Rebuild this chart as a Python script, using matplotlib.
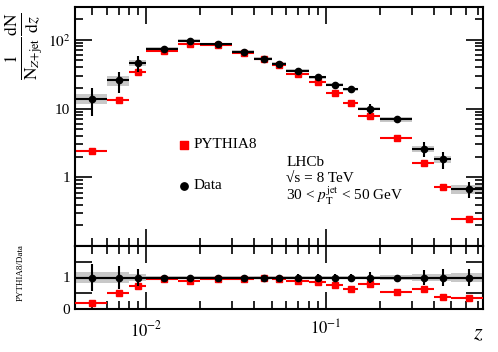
import numpy as np
import matplotlib
matplotlib.use('Agg')
import matplotlib.pyplot as plt
from matplotlib.ticker import FixedLocator, LogLocator, NullFormatter, FixedFormatter

plt.rcParams['font.family'] = 'Liberation Serif'
plt.rcParams['mathtext.fontset'] = 'stix'

# z bin edges
edges = np.array([0.004, 0.006, 0.008, 0.01, 0.015, 0.02, 0.03, 0.04, 0.05, 0.06,
                  0.08, 0.1, 0.125, 0.15, 0.2, 0.3, 0.4, 0.5, 0.75])
data = np.array([13.8, 25.6, 46.1, 73.5, 96.7, 86.7, 67.2, 53.2, 44.6, 35.7,
                 28.3, 22.2, 19.0, 10.0, 6.94, 2.59, 1.84, 0.68])
pythia = np.array([2.44, 13.3, 33.7, 69.4, 85.6, 83.3, 64.9, 52.3, 42.9, 32.3,
                   24.0, 17.0, 11.9, 7.81, 3.77, 1.63, 0.71, 0.244])
# relative stat and syst uncertainties on data
stat_rel = np.array([0.44, 0.35, 0.27, 0.07, 0.07, 0.07, 0.07, 0.07, 0.07, 0.1,
                     0.1, 0.1, 0.1, 0.16, 0.07, 0.25, 0.28, 0.27])
sys_rel = np.array([0.17, 0.16, 0.1, 0.06, 0.05, 0.05, 0.05, 0.05, 0.05, 0.05,
                    0.05, 0.05, 0.06, 0.06, 0.07, 0.1, 0.12, 0.15])

centers = 0.5 * (edges[:-1] + edges[1:])
widths = np.diff(edges)
xerr = [centers - edges[:-1], edges[1:] - centers]
ratio = pythia / data

fig = plt.figure(figsize=(4.98, 3.52), dpi=100)
ax = fig.add_axes([75/498, 106/352, 408/498, 239/352])
rax = fig.add_axes([75/498, 43/352, 408/498, 63/352], sharex=ax)

# main panel
ax.bar(edges[:-1], 2*sys_rel*data, bottom=data*(1-sys_rel), width=widths, align='edge',
       color='#c8c8c8', linewidth=0, zorder=1)
ax.errorbar(centers, pythia, xerr=xerr, fmt='s', color='red', ms=4, lw=1.5,
            capsize=0, zorder=2)
ax.errorbar(centers, data, xerr=xerr, yerr=stat_rel*data, fmt='o', color='black',
            ms=4.5, lw=1.5, capsize=0, zorder=3)
ax.set_xscale('log')
ax.set_yscale('log')
ax.set_xlim(0.004, 0.75)
ax.set_ylim(0.1, 300)
ax.yaxis.set_major_locator(FixedLocator([1, 10, 100]))
ax.yaxis.set_major_formatter(FixedFormatter(['1', '10', r'$10^2$']))
ax.yaxis.set_minor_locator(LogLocator(base=10, subs=np.arange(2, 10)))
ax.yaxis.set_minor_formatter(NullFormatter())
ax.tick_params(labelbottom=False)
fig.text(24/498, 1 - 46/352,
         r'$\frac{1}{\mathrm{N}_{Z\mathrm{+jet}}}\frac{\mathrm{dN}}{\mathrm{d}z}$',
         fontsize=18, rotation=90, ha='center', va='center')

ax.scatter([0.0161], [2.95], marker='s', color='red', s=28)
ax.text(0.0183, 2.95, 'PYTHIA8', fontsize=11, va='center')
ax.scatter([0.0161], [0.757], marker='o', color='black', s=28)
ax.text(0.0183, 0.757, 'Data', fontsize=11, va='center')
ax.text(0.06, 1.66, 'LHCb', fontsize=11, va='center')
ax.text(0.06, 0.955, '\u221as = 8 TeV', fontsize=11, va='center')
ax.text(0.06, 0.54, r'30 < $p_{\mathrm{T}}^{\mathrm{jet}}$ < 50 GeV', fontsize=11, va='center')

# ratio panel
rax.bar(edges[:-1], 2*sys_rel, bottom=1-sys_rel, width=widths, align='edge',
        color='#c8c8c8', linewidth=0, zorder=1)
rax.axhline(1, color='black', lw=1.5, zorder=2)
rax.errorbar(centers, ratio, xerr=xerr, fmt='s', color='red', ms=4, lw=1.5,
             capsize=0, zorder=3)
rax.errorbar(centers, np.ones_like(data), xerr=xerr, yerr=stat_rel, fmt='o',
             color='black', ms=4.5, lw=1.5, capsize=0, zorder=4)
rax.set_ylim(0, 2)
rax.yaxis.set_major_locator(FixedLocator([0, 0.5, 1, 1.5]))
rax.yaxis.set_major_formatter(FixedFormatter(['0', '', '1', '']))
rax.xaxis.set_major_locator(FixedLocator([0.01, 0.1]))
rax.xaxis.set_major_formatter(FixedFormatter([r'$10^{-2}$', r'$10^{-1}$']))
rax.xaxis.set_minor_locator(LogLocator(base=10, subs=np.arange(2, 10)))
rax.xaxis.set_minor_formatter(NullFormatter())
rax.set_ylabel('PYTHIA8/Data', fontsize=6.5, labelpad=4)
rax.yaxis.set_label_coords(-50/408, 0.58)
fig.text(478/498, 1 - 335/352, r'$z$', fontsize=16, ha='center', va='center')

for a in (ax, rax):
    a.tick_params(which='both', direction='in', top=True, right=True, labelsize=11, width=1.2)
    a.tick_params(which='major', length=12)
    a.tick_params(which='minor', length=6)
    for s in a.spines.values():
        s.set_linewidth(1.5)
rax.tick_params(axis='x', which='major', pad=8, labelsize=12)

fig.savefig('out.png', dpi=100)
